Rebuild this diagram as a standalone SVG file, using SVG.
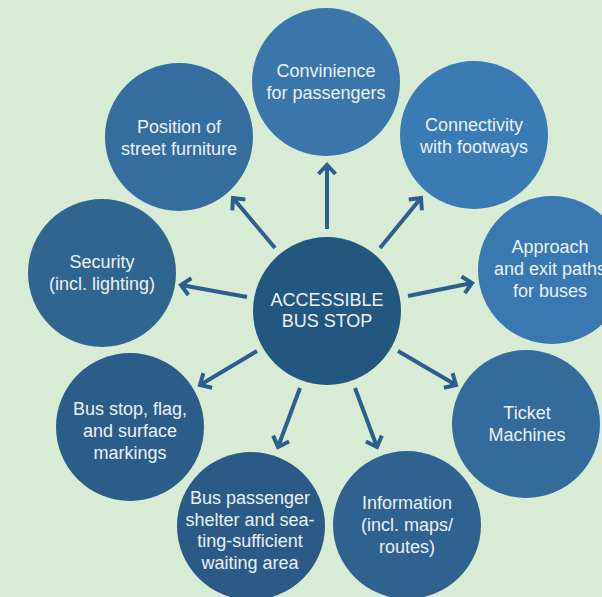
<svg xmlns="http://www.w3.org/2000/svg" width="602" height="597" viewBox="0 0 602 597">
  <style>
    .bg { fill: #d8ebd5; }
    .node text { font-family: "Liberation Sans", Arial, sans-serif; font-size: 18px; fill: #eaf0f5; text-anchor: middle; }
    .conn line { stroke: #2c5f8d; stroke-width: 4; marker-end: url(#chev); }
  </style>
  <defs>
    <marker id="chev" markerUnits="userSpaceOnUse" viewBox="-12 -12 16 24" refX="0" refY="0" markerWidth="16" markerHeight="24" orient="auto">
      <path d="M-9,-8.5 L0,0 L-9,8.5" fill="none" stroke="#2c5f8d" stroke-width="4"/>
    </marker>
  </defs>
  <rect class="bg" x="0" y="0" width="602" height="597"/>

  <g id="n-convinience" class="node">
    <circle cx="326" cy="82" r="74" fill="#3a76aa"/>
    <text x="326" y="77">Convinience</text>
    <text x="326" y="99">for passengers</text>
  </g>
  <g id="n-position" class="node">
    <circle cx="179" cy="137" r="74" fill="#356d9e"/>
    <text x="179" y="133">Position of</text>
    <text x="179" y="155">street furniture</text>
  </g>
  <g id="n-connectivity" class="node">
    <circle cx="474" cy="135" r="74" fill="#3a7bb3"/>
    <text x="474" y="131">Connectivity</text>
    <text x="474" y="153">with footways</text>
  </g>
  <g id="n-security" class="node">
    <circle cx="102" cy="273" r="74" fill="#30658f"/>
    <text x="102" y="268">Security</text>
    <text x="102" y="290">(incl. lighting)</text>
  </g>
  <g id="n-approach" class="node">
    <circle cx="552" cy="270" r="74" fill="#3978b0"/>
    <text x="550" y="253">Approach</text>
    <text x="550" y="275">and exit paths</text>
    <text x="550" y="297">for buses</text>
  </g>
  <g id="n-busstop" class="node">
    <circle cx="130" cy="427" r="74" fill="#2b5d88"/>
    <text x="130" y="415">Bus stop, flag,</text>
    <text x="130" y="437">and surface</text>
    <text x="130" y="459">markings</text>
  </g>
  <g id="n-ticket" class="node">
    <circle cx="526" cy="424" r="74" fill="#346b9b"/>
    <text x="527" y="419">Ticket</text>
    <text x="527" y="441">Machines</text>
  </g>
  <g id="n-shelter" class="node">
    <circle cx="251" cy="526" r="74" fill="#2a5a85"/>
    <text x="250" y="504">Bus passenger</text>
    <text x="250" y="526">shelter and sea-</text>
    <text x="250" y="547">ting-sufficient</text>
    <text x="250" y="569">waiting area</text>
  </g>
  <g id="n-information" class="node">
    <circle cx="407" cy="525" r="74" fill="#30628f"/>
    <text x="407" y="509">Information</text>
    <text x="407" y="531">(incl. maps/</text>
    <text x="407" y="553">routes)</text>
  </g>
  <g id="n-center" class="node">
    <circle cx="327" cy="311" r="74" fill="#24577f"/>
    <text x="327" y="306">ACCESSIBLE</text>
    <text x="327" y="327">BUS STOP</text>
  </g>

  <g id="connectors" class="conn">
    <line x1="327" y1="229" x2="327" y2="165"/>
    <line x1="275" y1="248" x2="233" y2="198"/>
    <line x1="380" y1="248" x2="421" y2="198"/>
    <line x1="408" y1="296" x2="472" y2="283"/>
    <line x1="247" y1="297" x2="181" y2="285"/>
    <line x1="257" y1="351" x2="200" y2="385"/>
    <line x1="398" y1="351" x2="456" y2="385"/>
    <line x1="300" y1="388" x2="278" y2="447"/>
    <line x1="355" y1="388" x2="377" y2="447"/>
  </g>
</svg>
